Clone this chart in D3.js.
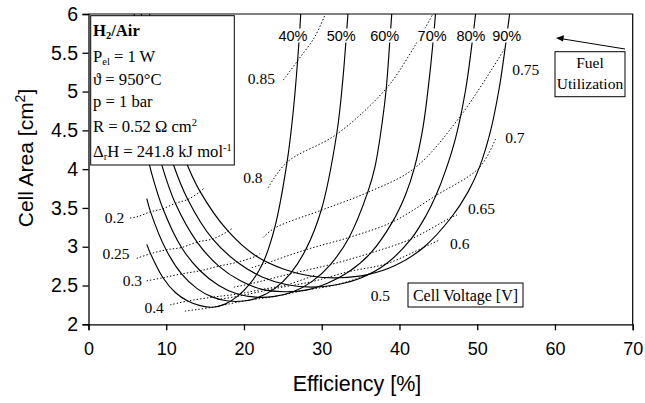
<!DOCTYPE html>
<html>
<head>
<meta charset="utf-8">
<script src="https://cdn.jsdelivr.net/npm/d3@7"></script>
<style>body{margin:0;background:#fff}</style>
</head>
<body>
<script>
// fuel utilization curves, [efficiency %, cell area cm2]
const util40 = [[7.50,3.03],[7.98,2.91],[9.58,2.60],[11.17,2.41],[12.77,2.30],[14.36,2.24],[15.96,2.22],[17.56,2.26],[19.15,2.36],[20.75,2.52],[22.34,2.77],[23.94,3.24],[25.54,4.09],[26.33,4.74],[27.13,5.72],[27.32,6.05]];
const util50 = [[7.50,3.62],[7.98,3.45],[9.98,2.96],[11.97,2.65],[13.97,2.46],[15.96,2.35],[17.96,2.30],[19.95,2.30],[21.95,2.35],[23.94,2.46],[25.94,2.65],[27.93,2.96],[29.93,3.47],[31.92,4.45],[32.72,5.16],[33.32,5.93],[33.44,6.08]];
const util60 = [[7.50,4.21],[8.14,3.94],[9.58,3.49],[11.97,2.99],[14.36,2.69],[16.76,2.50],[19.15,2.39],[21.55,2.35],[23.94,2.36],[26.33,2.42],[28.73,2.55],[31.12,2.77],[33.52,3.12],[35.91,3.70],[36.87,4.04],[37.83,4.64],[38.30,5.04],[38.78,5.68],[39.02,6.02]];
const util70 = [[5.87,6.00],[6.70,5.35],[7.82,4.70],[9.50,4.03],[11.17,3.56],[13.97,3.06],[16.76,2.75],[19.55,2.56],[22.34,2.45],[25.14,2.42],[27.93,2.44],[30.72,2.53],[33.52,2.68],[36.31,2.92],[39.10,3.32],[40.78,3.67],[41.90,4.01],[43.01,4.53],[43.85,5.18],[44.41,5.74],[44.69,6.07]];
const util80 = [[6.80,6.00],[7.66,5.42],[8.94,4.76],[10.85,4.08],[12.77,3.61],[15.96,3.10],[19.15,2.80],[22.34,2.61],[25.54,2.51],[28.73,2.48],[31.92,2.51],[35.11,2.60],[38.30,2.78],[41.50,3.10],[43.41,3.40],[44.69,3.66],[45.96,3.99],[47.24,4.41],[48.52,5.03],[49.48,5.74],[49.80,6.01]];
const util90 = [[7.86,6.00],[8.62,5.55],[10.05,4.88],[12.21,4.18],[14.36,3.71],[17.96,3.20],[21.55,2.88],[25.14,2.71],[28.73,2.62],[32.32,2.60],[35.91,2.64],[39.50,2.76],[43.09,2.99],[46.68,3.38],[48.84,3.71],[50.27,4.02],[51.71,4.49],[52.79,5.02],[53.51,5.50],[54.22,6.04]];
const utilNames = ["40%", "50%", "60%", "70%", "80%", "90%"];
const utilLabelX = [26.3, 32.5, 38.1, 44.2, 49.2, 53.8];

// constant cell voltage lines
const volt20 = [[5.34,3.37],[6.38,3.39],[7.98,3.45],[9.58,3.49],[11.17,3.56],[12.77,3.61],[14.36,3.71],[14.8,3.75]];
const volt25 = [[6.2,2.85],[7.98,2.91],[9.98,2.96],[11.97,2.99],[13.97,3.06],[15.96,3.10],[17.96,3.20],[18.4,3.23]];
const volt30 = [[7.49,2.56],[9.58,2.60],[11.97,2.65],[14.36,2.69],[16.76,2.75],[19.15,2.80],[21.55,2.88],[22.0,2.91]];
const volt40 = [[10.5,2.25],[12.77,2.30],[15.96,2.35],[19.15,2.39],[22.34,2.45],[25.54,2.51],[28.73,2.62],[29.2,2.64]];
const volt50 = [[12.4,2.17],[15.96,2.22],[19.95,2.30],[23.94,2.36],[27.93,2.44],[31.92,2.51],[35.91,2.64],[36.4,2.67]];
const volt60 = [[16.6,2.32],[19.15,2.36],[23.94,2.46],[28.73,2.55],[33.52,2.68],[38.30,2.78],[43.09,2.99],[45.0,3.08]];
const volt65 = [[18.7,2.48],[20.75,2.52],[25.94,2.65],[31.12,2.77],[36.31,2.92],[41.50,3.10],[46.68,3.38],[47.4,3.41]];
const volt70 = [[21.0,2.73],[22.34,2.77],[27.93,2.96],[33.52,3.12],[39.10,3.32],[44.69,3.66],[50.27,4.02],[52.4,4.40]];
const volt75 = [[22.48,3.12],[23.94,3.24],[29.93,3.47],[35.91,3.70],[41.90,4.01],[47.88,4.69],[53.5,5.55]];
const volt80 = [[23.1,3.76],[25.54,4.09],[31.92,4.45],[38.30,5.04],[41.5,5.51],[44.69,6.07]];
const volt85 = [[25.06,5.15],[26.99,5.41],[29.13,5.71],[30.42,5.99]];

// voltage labels: text, efficiency, area (label anchor)
const voltLabels = [["0.85",20.5,5.10],["0.8",19.9,3.82],["0.2",2.1,3.30],["0.25",1.8,2.84],["0.3",4.4,2.49],["0.4",7.2,2.15],
  ["0.5",36.3,2.30],["0.6",46.5,2.97],["0.65",48.8,3.42],["0.7",53.6,4.34],["0.75",54.5,5.21]];

const xTicks = [0, 10, 20, 30, 40, 50, 60, 70];
const yTicks = [2, 2.5, 3, 3.5, 4, 4.5, 5, 5.5, 6];
const yTickLabels = ["2", "2.5", "3", "3.5", "4", "4.5", "5", "5.5", "6"];

const width = 645, height = 403;
const x = d3.scaleLinear().domain([0, 70]).range([88.5, 632.7]);
const y = d3.scaleLinear().domain([2, 6]).range([324.3, 14]);

const sans = "Liberation Sans, Arial, sans-serif";
const serif = "Liberation Serif, Times New Roman, serif";

const svg = d3.select("body").append("svg")
    .attr("width", width)
    .attr("height", height)
    .attr("font-family", sans);

svg.append("defs").append("clipPath").attr("id", "plot")
  .append("rect")
    .attr("x", x(0)).attr("y", y(6))
    .attr("width", x(70) - x(0)).attr("height", y(2) - y(6));

const line = d3.line()
    .x(d => x(d[0]))
    .y(d => y(d[1]))
    .curve(d3.curveCatmullRom);

const plot = svg.append("g").attr("clip-path", "url(#plot)");

// dotted voltage lines
plot.append("g")
    .attr("fill", "none")
    .attr("stroke", "#000")
    .attr("stroke-width", 1)
    .attr("stroke-dasharray", "1.4,2")
  .selectAll("path")
  .data([volt20, volt25, volt30, volt40, volt50, volt60, volt65, volt70, volt75, volt80, volt85])
  .join("path")
    .attr("d", line);

// solid fuel utilization curves
plot.append("g")
    .attr("fill", "none")
    .attr("stroke", "#000")
    .attr("stroke-width", 1.15)
  .selectAll("path")
  .data([util40, util50, util60, util70, util80, util90])
  .join("path")
    .attr("d", line);

// axes
const xAxis = svg.append("g")
    .attr("transform", `translate(0,${y(2)})`)
    .call(d3.axisBottom(x).tickValues(xTicks).tickSize(6).tickPadding(12).tickFormat(d => d));
const yAxis = svg.append("g")
    .attr("transform", `translate(${x(0)},0)`)
    .call(d3.axisLeft(y).tickValues(yTicks).tickSize(6).tickPadding(4.5).tickFormat((d, i) => yTickLabels[i]));
[xAxis, yAxis].forEach(a => {
  a.select(".domain").attr("stroke-width", 1.3);
  a.selectAll(".tick line").attr("stroke-width", 1.3);
  a.selectAll("text").attr("font-family", sans).attr("fill", "#000");
});
xAxis.selectAll("text").attr("font-size", 18);
yAxis.selectAll("text").attr("font-size", 19.5);

// frame top & right
svg.append("path")
    .attr("d", `M${x(0)},${y(6)}H${x(70)}V${y(2)}`)
    .attr("fill", "none").attr("stroke", "#000").attr("stroke-width", 1.2);

svg.append("text")
    .attr("x", 357).attr("y", 391)
    .attr("text-anchor", "middle")
    .attr("font-size", 21.5)
    .text("Efficiency [%]");

const yt = svg.append("text")
    .attr("transform", "translate(33,158) rotate(-90)")
    .attr("text-anchor", "middle")
    .attr("font-size", 21);
yt.append("tspan").text("Cell Area [cm");
yt.append("tspan").attr("font-size", 14).attr("dy", -8).text("2");
yt.append("tspan").attr("dy", 8).text("]");

// label helper with white background
function label(g, txt, px, py, opts) {
  const t = g.append("text")
      .attr("x", px).attr("y", py)
      .attr("font-size", opts.size)
      .attr("font-family", opts.family)
      .attr("text-anchor", opts.anchor || "start")
      .text(txt);
  const b = t.node().getBBox();
  g.insert("rect", () => t.node())
      .attr("x", b.x - 1).attr("y", b.y + 1)
      .attr("width", b.width + 2).attr("height", b.height - 2)
      .attr("fill", "#fff");
  return t;
}

const labels = svg.append("g");

utilNames.forEach((n, i) => {
  label(labels, n, x(utilLabelX[i]), 40.5, {size: 14.5, family: sans, anchor: "middle"});
});

voltLabels.forEach(d => {
  label(labels, d[0], x(d[1]), y(d[2]), {size: 15.5, family: serif});
});

// parameter box
const info = svg.append("g").attr("font-family", serif).attr("font-size", 16.6);
info.append("rect")
    .attr("x", 90.7).attr("y", 15.7).attr("width", 143.6).attr("height", 149.3)
    .attr("fill", "#fff").attr("stroke", "#000").attr("stroke-width", 1);

let t = info.append("text").attr("x", 93).attr("y", 35.5).attr("font-weight", "bold");
t.append("tspan").text("H");
t.append("tspan").attr("font-size", 10.5).attr("dy", 3).text("2");
t.append("tspan").attr("dy", -3).text("/Air");

t = info.append("text").attr("x", 93).attr("y", 61.5);
t.append("tspan").text("P");
t.append("tspan").attr("font-size", 10.5).attr("dy", 3).text("el");
t.append("tspan").attr("dy", -3).text(" = 1 W");

info.append("text").attr("x", 93).attr("y", 85).text("ϑ = 950°C");
info.append("text").attr("x", 93).attr("y", 107).text("p = 1 bar");

t = info.append("text").attr("x", 93).attr("y", 131.5);
t.append("tspan").text("R = 0.52 Ω cm");
t.append("tspan").attr("font-size", 10.5).attr("dy", -6).text("2");

t = info.append("text").attr("x", 93).attr("y", 156.5);
t.append("tspan").text("Δ");
t.append("tspan").attr("font-size", 10.5).attr("dy", 3).text("r");
t.append("tspan").attr("dy", -3).text("H = 241.8 kJ mol");
t.append("tspan").attr("font-size", 10.5).attr("dy", -6).text("-1");

// fuel utilization box and arrow
const fu = svg.append("g").attr("font-family", serif).attr("font-size", 15.5);
fu.append("rect")
    .attr("x", 555).attr("y", 51.7).attr("width", 70).attr("height", 45)
    .attr("fill", "#fff").attr("stroke", "#000").attr("stroke-width", 1);
fu.append("text").attr("x", 590).attr("y", 68).attr("text-anchor", "middle").text("Fuel");
fu.append("text").attr("x", 590).attr("y", 88.5).attr("text-anchor", "middle").text("Utilization");
fu.append("line")
    .attr("x1", 625).attr("y1", 49).attr("x2", 562).attr("y2", 38.8)
    .attr("stroke", "#000").attr("stroke-width", 1);
fu.append("path")
    .attr("d", "M556,38L564,35.2L563,41.6Z")
    .attr("fill", "#000");

// cell voltage box
const cv = svg.append("g").attr("font-family", serif).attr("font-size", 16);
cv.append("rect")
    .attr("x", 408).attr("y", 283).attr("width", 115).attr("height", 24)
    .attr("fill", "#fff").attr("stroke", "#000").attr("stroke-width", 1);
cv.append("text").attr("x", 465.5).attr("y", 300.5).attr("text-anchor", "middle").text("Cell Voltage [V]");
</script>
</body>
</html>
